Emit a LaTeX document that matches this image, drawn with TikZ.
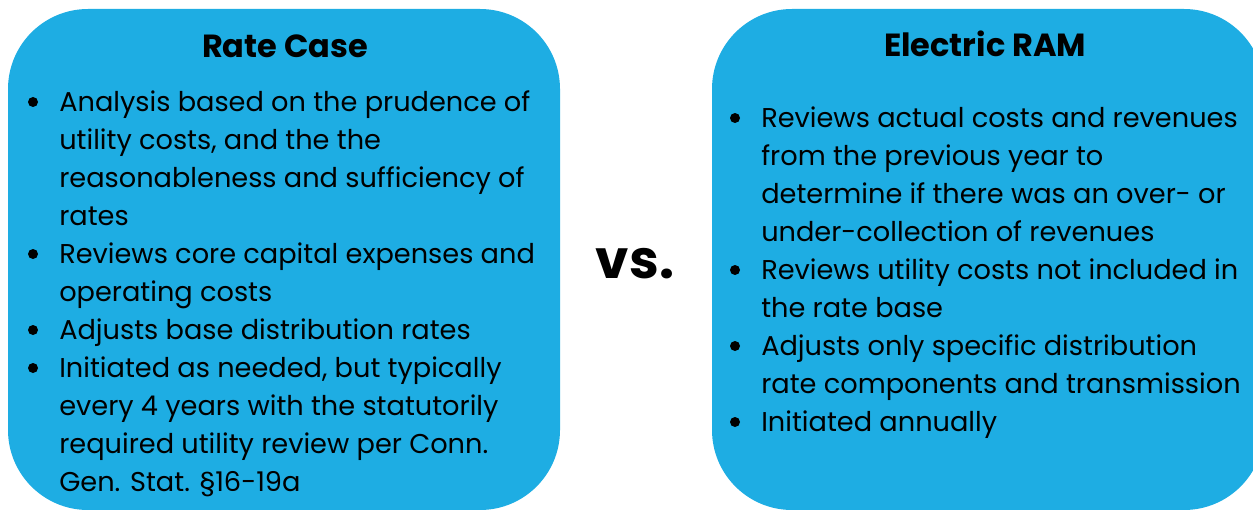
\documentclass[tikz,border=0pt]{standalone}
\usepackage{fontspec}
\setmainfont{Poppins}
\definecolor{ramblue}{RGB}{30,173,227}
\begin{document}
\begin{tikzpicture}[x=0.75pt,y=-0.75pt,
  box/.style={fill=ramblue,rounded corners=60pt},
  head/.style={font=\fontsize{24}{28}\selectfont\bfseries,anchor=base,inner sep=0pt},
  item/.style={font=\fontsize{20.4}{28.5}\selectfont,anchor=base west,align=left,inner sep=0pt},
  dot/.style={circle,fill=black,inner sep=0pt,minimum size=7.5pt}]
\clip (0,0) rectangle (1253,510);
% the two panels
\fill[box] (8,9) rectangle (560,510);
\fill[box] (712,9) rectangle (1264,510);
% left panel (items placed at the baseline of their last line)
\node[head] (rate) at (285,58) {Rate Case};
\node[dot] (d1) at (33,102) {};
\node[item] (r1) at (59,225) {Analysis based on the prudence of\\utility costs, and the the\\reasonableness and sufficiency of\\rates};
\node[dot] (d2) at (33,254) {};
\node[item] (r2) at (59,301) {Reviews core capital expenses and\\operating costs};
\node[dot] (d3) at (33,330) {};
\node[item] (r3) at (59,339) {Adjusts base distribution rates};
\node[dot] (d4) at (33,368) {};
\node[item] (r4) at (59,491) {Initiated as needed, but typically\\every 4 years with the statutorily\\required utility review per Conn.\\Gen. Stat. §16-19a};
% middle
\node[font=\fontsize{40}{46}\selectfont\bfseries,anchor=base,inner sep=0pt] (vs) at (635,278) {vs.};
% right panel
\node[head] (ram) at (985,57) {Electric RAM};
\node[dot] (e1) at (735,118) {};
\node[item] (m1) at (761,241) {Reviews actual costs and revenues\\from the previous year to\\determine if there was an over- or\\under-collection of revenues};
\node[dot] (e2) at (735,270) {};
\node[item] (m2) at (761,317) {Reviews utility costs not included in\\the rate base};
\node[dot] (e3) at (735,346) {};
\node[item] (m3) at (761,393) {Adjusts only specific distribution\\rate components and transmission};
\node[dot] (e4) at (735,422) {};
\node[item] (m4) at (761,431) {Initiated annually};
\end{tikzpicture}
\end{document}
